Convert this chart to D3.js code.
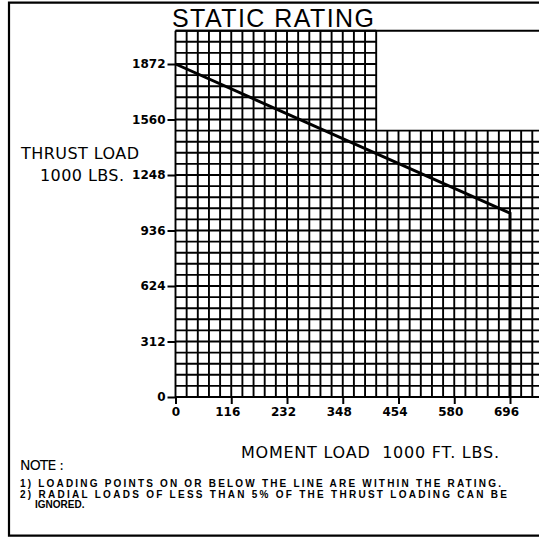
<!DOCTYPE html>
<html><head><meta charset="utf-8">
<script src="https://cdn.jsdelivr.net/npm/d3@7/dist/d3.min.js"></script>
<style>
html,body{margin:0;padding:0;background:#fff;}
svg{display:block;}
text{font-family:"DejaVu Sans",sans-serif;fill:#000;white-space:pre;}
</style></head>
<body><svg id="c" width="539" height="539"></svg>
<script>
// ---- data ----
const xTickValues = [0, 116, 232, 348, 464, 580, 696];
const xTickLabels = ["0", "116", "232", "348", "454", "580", "696"];
const yTickValues = [0, 312, 624, 936, 1248, 1560, 1872];
const yTickLabels = ["0", "312", "624", "936", "1248", "1560", "1872"];
const ratingMoment = [0, 696, 696];
const ratingThrust = [1872, 1033, 0];
// grid (chart paper) in data units
const gridStep = [23.2, 62.4];          // moment, thrust per cell
const gridTall = [417.6, 2059.2];       // tall part: width, top
const gridLow = [788.8, 1497.6];        // low part: width, top
const title = "STATIC RATING";
const yTitle = ["THRUST LOAD", "1000 LBS."];
const xTitle = "MOMENT LOAD  1000 FT. LBS.";
const notes = ["NOTE :", "1) LOADING POINTS ON OR BELOW THE LINE ARE WITHIN THE RATING.",
  "2) RADIAL LOADS OF LESS THAN 5% OF THE THRUST LOADING CAN BE", "IGNORED."];

// ---- drawing ----
const svg = d3.select("#c");
const x = d3.scaleLinear().domain([0, 696]).range([175.5, 510]);
const y = d3.scaleLinear().domain([0, 1872]).range([397, 64]);

// frame
svg.append("path").attr("d", "M560,2.7 H9 V535.7 H560")
  .attr("fill", "none").attr("stroke", "#000").attr("stroke-width", 2.2);

// grid
const g = svg.append("g").attr("stroke", "#000").attr("stroke-width", 1.9).attr("fill", "none");
const nV = Math.round(gridLow[0] / gridStep[0]);
for (let k = 0; k <= nV; k++) {
  const v = k * gridStep[0];
  const top = v <= gridTall[0] + 1e-6 ? gridTall[1] : gridLow[1];
  g.append("line").attr("x1", x(v)).attr("x2", x(v)).attr("y1", y(0)).attr("y2", y(top));
}
const nH = Math.round(gridTall[1] / gridStep[1]);
for (let j = 0; j <= nH; j++) {
  const v = j * gridStep[1];
  const right = v <= gridLow[1] + 1e-6 ? gridLow[0] : gridTall[0];
  g.append("line").attr("x1", x(0)).attr("x2", x(right)).attr("y1", y(v)).attr("y2", y(v));
}
// title underline
g.append("line").attr("x1", x(0)).attr("x2", 560).attr("y1", y(gridTall[1])).attr("y2", y(gridTall[1]));

// axes
const yAxis = svg.append("g").attr("transform", `translate(${x(0)},0)`)
  .call(d3.axisLeft(y).tickValues(yTickValues).tickFormat((d, i) => yTickLabels[i]).tickSize(8).tickPadding(2));
const xAxis = svg.append("g").attr("transform", `translate(0,${y(0)})`)
  .call(d3.axisBottom(x).tickValues(xTickValues).tickFormat((d, i) => xTickLabels[i]).tickSize(7).tickPadding(3));
[yAxis, xAxis].forEach(a => {
  a.select(".domain").remove();
  a.selectAll(".tick line").attr("stroke", "#000").attr("stroke-width", 2);
  a.selectAll(".tick text").attr("fill", "#000")
    .style("font-family", "DejaVu Sans").style("font-weight", "bold")
    .style("font-size", "12px");
});
xAxis.selectAll(".tick text").attr("dx", (d, i) => xTickLabels[i].length > 1 ? -4 : 0);

// rating line
const line = d3.line().x((d, i) => x(ratingMoment[i])).y((d, i) => y(ratingThrust[i]));
svg.append("path").datum(ratingMoment).attr("d", line)
  .attr("fill", "none").attr("stroke", "#000").attr("stroke-width", 3).attr("stroke-linejoin", "miter");

// texts
svg.append("text").attr("x", 172).attr("y", 27).attr("textLength", 202)
  .style("font-family", "Liberation Sans").style("font-size", "25px").text(title);
svg.append("text").attr("x", 21).attr("y", 159).attr("textLength", 118)
  .style("font-size", "16px").text(yTitle[0]);
svg.append("text").attr("x", 40).attr("y", 181).attr("textLength", 84)
  .style("font-size", "16px").text(yTitle[1]);
svg.append("text").attr("x", 241).attr("y", 458).attr("textLength", 258)
  .style("font-size", "16px").text(xTitle);
svg.append("text").attr("x", 20).attr("y", 470).attr("textLength", 44)
  .style("font-size", "14px").text(notes[0]);
const noteFont = "Liberation Sans";
svg.append("text").attr("x", 20).attr("y", 487).attr("textLength", 481)
  .style("font-family", noteFont).style("font-size", "10px").style("font-weight", "bold").text(notes[1]);
svg.append("text").attr("x", 20).attr("y", 497.5).attr("textLength", 487)
  .style("font-family", noteFont).style("font-size", "10px").style("font-weight", "bold").text(notes[2]);
svg.append("text").attr("x", 35).attr("y", 508)
  .style("font-family", noteFont).style("font-size", "10px").style("font-weight", "bold").text(notes[3]);
</script></body></html>
